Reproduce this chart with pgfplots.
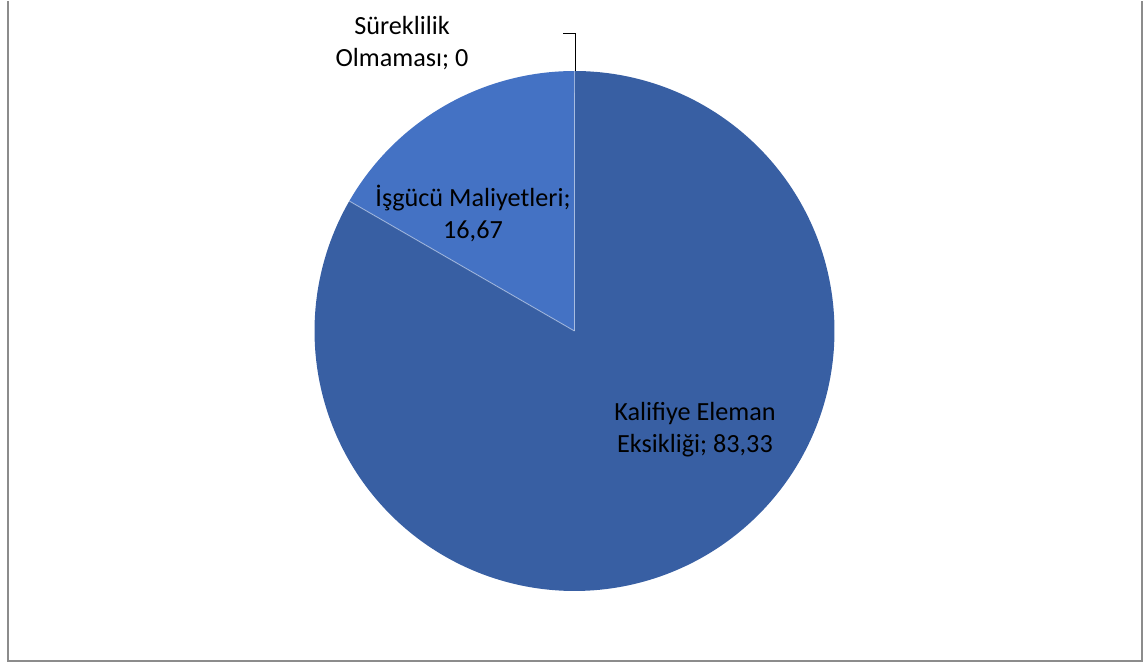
\documentclass[border=0pt]{standalone}
\usepackage{pgfplots}
\pgfplotsset{compat=1.18}
\usepackage{pgfplotstable}
\usepackage{fontspec}
\setmainfont{Carlito}
\definecolor{sliceA}{RGB}{56,95,163}
\definecolor{sliceB}{RGB}{68,114,196}
\definecolor{framegray}{RGB}{140,140,140}
\pgfplotstableread[col sep=comma]{
label,value
Kalifiye Eleman Eksikliği,83.33
İşgücü Maliyetleri,16.67
Süreklilik Olmaması,0
}\piedata
\begin{document}
\begin{tikzpicture}
\pgfplotstablegetelem{0}{value}\of\piedata \let\vA\pgfplotsretval
\pgfplotstablegetelem{1}{value}\of\piedata \let\vB\pgfplotsretval
\pgfplotstablegetelem{2}{value}\of\piedata \let\vC\pgfplotsretval
\pgfmathsetmacro\aStart{90}
\pgfmathsetmacro\aOne{90-3.6*\vA}
\pgfmathsetmacro\aTwo{\aOne-3.6*\vB}
\pgfmathsetmacro\aThree{\aTwo-3.6*\vC}
\def\cx{574.5}
\def\cy{333}
\def\rr{260}
\begin{axis}[
  scale only axis, width=573.5pt, height=331.5pt,
  xmin=0, xmax=1147, ymin=0, ymax=663,
  hide axis, clip=false,
]
\path (axis cs:0,0) rectangle (axis cs:1147,663);
% frame
\draw[framegray, line width=1pt] (axis cs:7.5,663) -- (axis cs:7.5,3) -- (axis cs:1141.5,3) -- (axis cs:1141.5,663);
% slices
\addplot[fill=sliceA, draw=none, domain=\aOne:\aStart, samples=240, variable=\t]
  ({\cx+\rr*cos(\t)},{\cy+\rr*sin(\t)}) -- (axis cs:\cx,\cy) -- cycle;
\addplot[fill=sliceB, draw=none, domain=\aTwo:\aOne, samples=80, variable=\t]
  ({\cx+\rr*cos(\t)},{\cy+\rr*sin(\t)}) -- (axis cs:\cx,\cy) -- cycle;
% slice separators
\draw[white, opacity=0.4, line width=0.5pt] (axis cs:\cx,\cy) -- (axis cs:{\cx+\rr*cos(\aStart)},{\cy+\rr*sin(\aStart)});
\draw[white, opacity=0.4, line width=0.5pt] (axis cs:\cx,\cy) -- (axis cs:{\cx+\rr*cos(\aOne)},{\cy+\rr*sin(\aOne)});
% leader line for zero slice
\draw[black, line width=0.5pt] (axis cs:575,593) -- (axis cs:575,630) -- (axis cs:563,630);
% labels
\node[align=center, font=\fontsize{13.1}{16}\selectfont, inner sep=0pt] at (axis cs:695,234) {Kalifiye Eleman\\Eksikliği; 83,33};
\node[align=center, font=\fontsize{13.1}{16}\selectfont, inner sep=0pt] at (axis cs:473,451) {İşgücü Maliyetleri;\\16,67};
\node[align=center, font=\fontsize{13.1}{16}\selectfont, inner sep=0pt] at (axis cs:402,621) {Süreklilik\\Olmaması; 0};
\end{axis}
\end{tikzpicture}
\end{document}
